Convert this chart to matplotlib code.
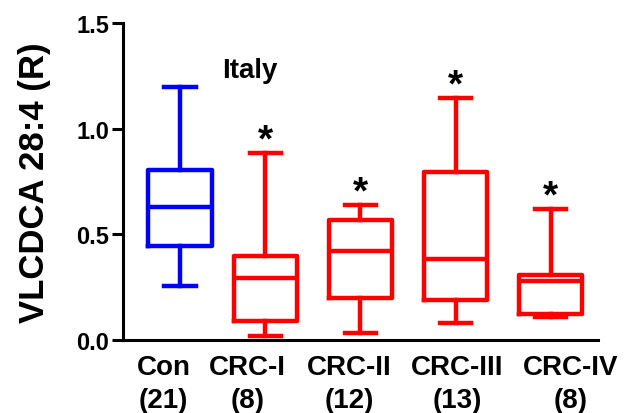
import matplotlib
matplotlib.use("Agg")
import matplotlib.pyplot as plt

plt.rcParams['font.family'] = ['Liberation Sans', 'DejaVu Sans']
plt.rcParams['font.weight'] = 'bold'

# Grupos y datos (min, Q1, mediana, Q3, max)
grupos = ['Con', 'CRC-I', 'CRC-II', 'CRC-III', 'CRC-IV']
n_muestras = [21, 8, 12, 13, 8]
minimos = [0.256, 0.02, 0.036, 0.08, 0.108]
q1 = [0.445, 0.09, 0.20, 0.19, 0.123]
medianas = [0.63, 0.293, 0.42, 0.383, 0.28]
q3 = [0.805, 0.40, 0.57, 0.795, 0.31]
maximos = [1.197, 0.885, 0.64, 1.145, 0.62]
significativo = [False, True, True, True, True]
colores = ['#0000ff', '#ff0000', '#ff0000', '#ff0000', '#ff0000']

posiciones = [0.6, 1.5, 2.5, 3.5, 4.5]
pos_etiquetas = [0.43, 1.31, 2.38, 3.52, 4.71]

fig = plt.figure(figsize=(6.33, 4.14), dpi=100)
ax = fig.add_axes([0.194, 0.176, 0.751, 0.766])

for i in range(len(grupos)):
    stats = [{'whislo': minimos[i], 'q1': q1[i], 'med': medianas[i],
              'q3': q3[i], 'whishi': maximos[i], 'fliers': []}]
    c = colores[i]
    estilo = dict(color=c, linewidth=3.2)
    ax.bxp(stats, positions=[posiciones[i]], widths=0.67, capwidths=0.33,
           boxprops=estilo, medianprops=estilo, whiskerprops=estilo,
           capprops=estilo, showfliers=False, manage_ticks=False)
    if significativo[i]:
        # asterisco de significancia justo encima del bigote
        ax.text(posiciones[i], maximos[i] + 0.012, '*', fontsize=28,
                ha='center', va='baseline', fontweight='bold')

for art in ax.lines:
    art.set_clip_on(False)

ax.text(1.34, 1.28, 'Italy', fontsize=20, ha='center', va='center', fontweight='bold')

ax.set_xlim(0, 5)
ax.set_ylim(0, 1.5)
ax.set_yticks([0.0, 0.5, 1.0, 1.5])
ax.set_yticklabels(['0.0', '0.5', '1.0', '1.5'], fontsize=17, fontweight='bold')
ax.set_xticks(pos_etiquetas)
ax.set_xticklabels([f'{g}\n({n})' for g, n in zip(grupos, n_muestras)],
                   fontsize=20, fontweight='bold', linespacing=1.35)
ax.tick_params(axis='x', length=0, pad=10)
ax.tick_params(axis='y', length=8, width=2.2, pad=2)
ax.set_ylabel('VLCDCA 28:4 (R)', fontsize=25, fontweight='bold', labelpad=18)

for s in ['top', 'right']:
    ax.spines[s].set_visible(False)
for s in ['left', 'bottom']:
    ax.spines[s].set_linewidth(2.2)

fig.savefig('out.png', dpi=100)
